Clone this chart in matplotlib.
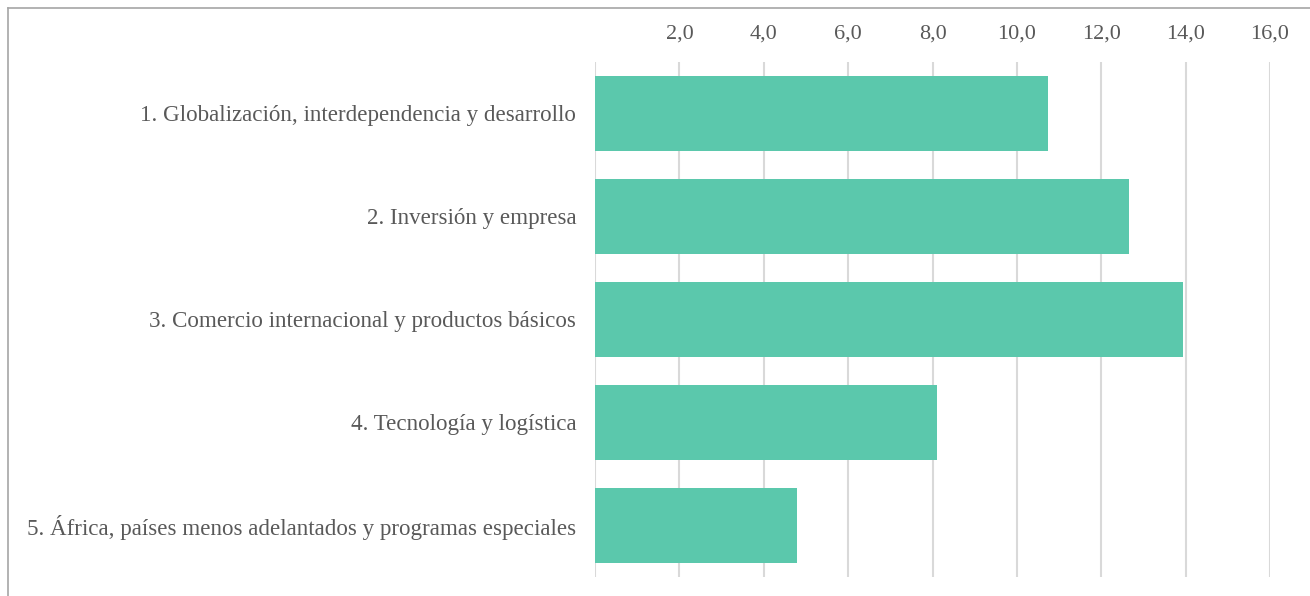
import numpy as np
import matplotlib.pyplot as plt
from matplotlib.lines import Line2D

# data
categories = [
    "1. Globalización, interdependencia y desarrollo",
    "2. Inversión y empresa",
    "3. Comercio internacional y productos básicos",
    "4. Tecnología y logística",
    "5. África, países menos adelantados y programas especiales",
]
values = [10.73, 12.65, 13.93, 8.10, 4.79]
tick_vals = [0, 2, 4, 6, 8, 10, 12, 14, 16]
tick_labels = ["", "2,0", "4,0", "6,0", "8,0", "10,0", "12,0", "14,0", "16,0"]

plt.rcParams["font.family"] = ["Liberation Serif", "DejaVu Serif"]

fig = plt.figure(figsize=(13.1, 5.96), dpi=100)
ax = fig.add_axes([0.4542, 0.0319, 0.5153, 0.8641])

y = np.arange(len(categories))
ax.barh(y, values, height=0.73, color="#5bc8ac", zorder=3)

ax.set_xlim(0, 16)
ax.set_ylim(len(categories) - 0.5, -0.5)
ax.set_xticks(tick_vals)
ax.set_xticklabels(tick_labels)
ax.set_yticks(y)
ax.set_yticklabels(categories)

ax.xaxis.tick_top()
ax.tick_params(axis="x", length=0, pad=13, labelsize=16, labelcolor="#595959")
ax.tick_params(axis="y", length=0, pad=13.5, labelsize=16.6, labelcolor="#595959")
ax.grid(axis="x", color="#d9d9d9", linewidth=1.5, zorder=0)
for s in ax.spines.values():
    s.set_visible(False)

# outer frame (only left and top visible in the reference)
fig.add_artist(Line2D([8 / 1310, 8 / 1310], [0, 1 - 8 / 596], color="#a6a6a6", lw=1.2))
fig.add_artist(Line2D([8 / 1310, 1], [1 - 8 / 596, 1 - 8 / 596], color="#a6a6a6", lw=1.2))

fig.savefig("out.png", dpi=100)
